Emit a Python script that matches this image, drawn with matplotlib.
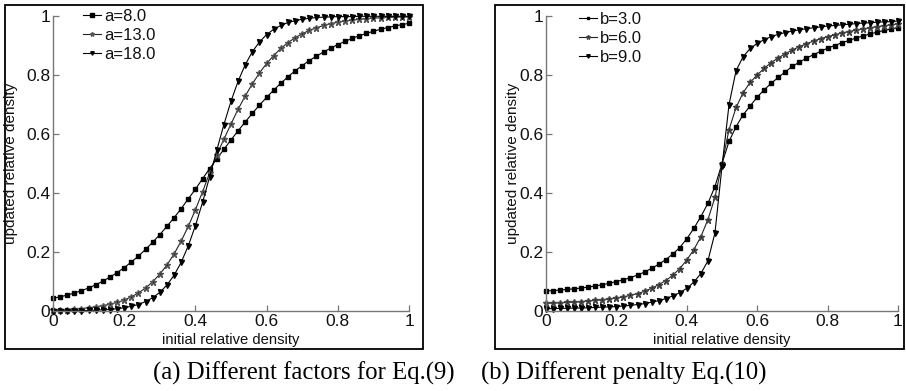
import numpy as np
import matplotlib
matplotlib.use("Agg")
import matplotlib.pyplot as plt
from matplotlib.patches import Rectangle

x_vals = [round(0.02 * i, 2) for i in range(51)]

a8 = [0.043, 0.048, 0.054, 0.061, 0.069, 0.078, 0.089, 0.101, 0.115, 0.130,
      0.147, 0.166, 0.186, 0.209, 0.233, 0.259, 0.287, 0.316, 0.347, 0.380,
      0.413, 0.448, 0.483, 0.515, 0.548, 0.580, 0.611, 0.641, 0.670, 0.698,
      0.724, 0.749, 0.772, 0.794, 0.814, 0.832, 0.849, 0.864, 0.878, 0.891,
      0.903, 0.914, 0.924, 0.933, 0.941, 0.948, 0.955, 0.961, 0.966, 0.971,
      0.975]
a13 = [0.003, 0.004, 0.005, 0.006, 0.008, 0.011, 0.014, 0.018, 0.023, 0.029,
       0.037, 0.048, 0.061, 0.078, 0.099, 0.125, 0.156, 0.193, 0.237, 0.287,
       0.343, 0.404, 0.468, 0.530, 0.582, 0.634, 0.684, 0.729, 0.770, 0.807,
       0.839, 0.866, 0.890, 0.910, 0.926, 0.940, 0.951, 0.960, 0.968, 0.974,
       0.979, 0.983, 0.986, 0.989, 0.991, 0.993, 0.994, 0.995, 0.996, 0.997,
       0.997]
a18 = [0.000, 0.000, 0.001, 0.001, 0.001, 0.002, 0.003, 0.004, 0.005, 0.008,
       0.011, 0.016, 0.022, 0.032, 0.045, 0.063, 0.088, 0.121, 0.165, 0.221,
       0.289, 0.368, 0.455, 0.545, 0.632, 0.711, 0.779, 0.835, 0.879, 0.912,
       0.937, 0.955, 0.968, 0.978, 0.984, 0.989, 0.992, 0.995, 0.996, 0.997,
       0.998, 0.998, 0.998, 0.999, 0.999, 0.999, 0.999, 0.999, 0.999, 0.999,
       0.999]

b3 = [0.068, 0.069, 0.071, 0.073, 0.075, 0.078, 0.081, 0.085, 0.089, 0.094,
      0.100, 0.106, 0.113, 0.122, 0.132, 0.145, 0.158, 0.174, 0.193, 0.215,
      0.245, 0.280, 0.320, 0.365, 0.422, 0.500, 0.575, 0.625, 0.665, 0.695,
      0.725, 0.750, 0.772, 0.792, 0.811, 0.829, 0.844, 0.857, 0.869, 0.880,
      0.891, 0.900, 0.909, 0.917, 0.925, 0.932, 0.939, 0.945, 0.951, 0.956,
      0.961]
b6 = [0.026, 0.027, 0.028, 0.029, 0.030, 0.032, 0.034, 0.036, 0.038, 0.041,
      0.044, 0.048, 0.053, 0.059, 0.067, 0.077, 0.089, 0.103, 0.121, 0.144,
      0.173, 0.208, 0.252, 0.310, 0.385, 0.500, 0.615, 0.690, 0.740, 0.775,
      0.800, 0.823, 0.842, 0.858, 0.872, 0.885, 0.896, 0.906, 0.915, 0.923,
      0.930, 0.936, 0.942, 0.947, 0.952, 0.956, 0.960, 0.964, 0.967, 0.970,
      0.973]
b9 = [0.008, 0.008, 0.009, 0.009, 0.010, 0.010, 0.011, 0.012, 0.013, 0.014,
      0.015, 0.017, 0.019, 0.022, 0.025, 0.030, 0.035, 0.042, 0.051, 0.062,
      0.077, 0.098, 0.127, 0.170, 0.265, 0.490, 0.700, 0.815, 0.862, 0.890,
      0.907, 0.920, 0.930, 0.938, 0.944, 0.949, 0.953, 0.957, 0.960, 0.963,
      0.966, 0.968, 0.970, 0.972, 0.974, 0.976, 0.977, 0.979, 0.980, 0.981,
      0.983]

labels_a = ["a=8.0", "a=13.0", "a=18.0"]
labels_b = ["b=3.0", "b=6.0", "b=9.0"]
ticks = [0, 0.2, 0.4, 0.6, 0.8, 1]
tick_labels = ["0", "0.2", "0.4", "0.6", "0.8", "1"]
xlabel = "initial relative density"
ylabel = "updated relative density"
caption_a = "(a) Different factors for Eq.(9)"
caption_b = "(b) Different penalty Eq.(10)"

W, H = 906, 391
fig = plt.figure(figsize=(W / 100, H / 100), dpi=100)
fig.patch.set_facecolor("white")

sans = ["Liberation Sans", "DejaVu Sans"]
serif = ["Liberation Serif", "DejaVu Serif"]
spine_col = "#777777"
text_col = "#111111"


def fx(px):
    return px / W


def fy(py):
    return 1 - py / H


def make_axes(x0, x1, y_top, y_bot, ylab_px):
    ax = fig.add_axes([fx(x0), fy(y_bot), fx(x1 - x0), fy(y_top) - fy(y_bot)])
    ax.set_xlim(0, 1)
    ax.set_ylim(0, 1)
    for s in ["top", "right"]:
        ax.spines[s].set_visible(False)
    for s in ["left", "bottom"]:
        ax.spines[s].set_color(spine_col)
        ax.spines[s].set_linewidth(1.0)
    ax.set_xticks(ticks)
    ax.set_yticks(ticks)
    ax.set_xticklabels(tick_labels, fontfamily=sans, fontsize=12.5)
    ax.set_yticklabels(tick_labels, fontfamily=sans, fontsize=12.5)
    ax.tick_params(direction="in", length=4, width=0.9, color=spine_col,
                   labelcolor=text_col)
    ax.tick_params(axis="x", pad=2.5)
    ax.tick_params(axis="y", pad=2.0)
    ax.set_xlabel(xlabel, fontfamily=sans, fontsize=10.6, color=text_col)
    ax.set_ylabel(ylabel, fontfamily=sans, fontsize=11, color=text_col)
    ax.xaxis.label.set_va("center")
    ax.yaxis.label.set_va("center")
    ax.xaxis.set_label_coords(0.5, -(340 - y_bot) / (y_bot - y_top))
    ax.yaxis.set_label_coords(-(x0 - ylab_px) / (x1 - x0), 0.5)
    ax.patch.set_alpha(0)
    return ax


ax1 = make_axes(53, 409, 16, 311, 11)
ax2 = make_axes(546, 898, 16, 311, 513)

lw = 0.8
ax1.plot(x_vals, a8, color="black", lw=lw, marker="s", ms=3.2, label=labels_a[0], clip_on=False)
ax1.plot(x_vals, a13, color="#222222", lw=lw, marker="*", ms=4.5, mec="#555555", label=labels_a[1], clip_on=False)
ax1.plot(x_vals, a18, color="black", lw=lw, marker="v", ms=3.6, label=labels_a[2], clip_on=False)

ax2.plot(x_vals, b3, color="black", lw=lw, marker="s", ms=2.6, label=labels_b[0], clip_on=False)
ax2.plot(x_vals, b6, color="#222222", lw=lw, marker="*", ms=4.5, mec="#444444", label=labels_b[1], clip_on=False)
ax2.plot(x_vals, b9, color="black", lw=lw, marker="v", ms=3.6, label=labels_b[2], clip_on=False)

for ax, anchor in [(ax1, (fx(83), fy(9))), (ax2, (fx(579), fy(12)))]:
    leg = ax.legend(loc="upper left", bbox_to_anchor=anchor, bbox_transform=fig.transFigure,
                    frameon=False, prop={"family": sans, "size": 12},
                    handlelength=1.1, handletextpad=0.15, labelspacing=0.25,
                    borderpad=0, borderaxespad=0, markerscale=0.7)
    for t in leg.get_texts():
        t.set_color(text_col)

# Panel frames
fig.patches.append(Rectangle((fx(5), fy(349)), fx(423 - 5), fy(5) - fy(349), transform=fig.transFigure,
                             fill=False, edgecolor="black", lw=1.3))
fig.patches.append(Rectangle((fx(495), fy(349)), fx(904 - 495), fy(5) - fy(349), transform=fig.transFigure,
                             fill=False, edgecolor="black", lw=1.3))

fig.text(fx(304), fy(373), caption_a, ha="center", va="center", fontfamily=serif, fontsize=17.8)
fig.text(fx(624), fy(373), caption_b, ha="center", va="center", fontfamily=serif, fontsize=17.8)

fig.savefig("out.png", dpi=100)
